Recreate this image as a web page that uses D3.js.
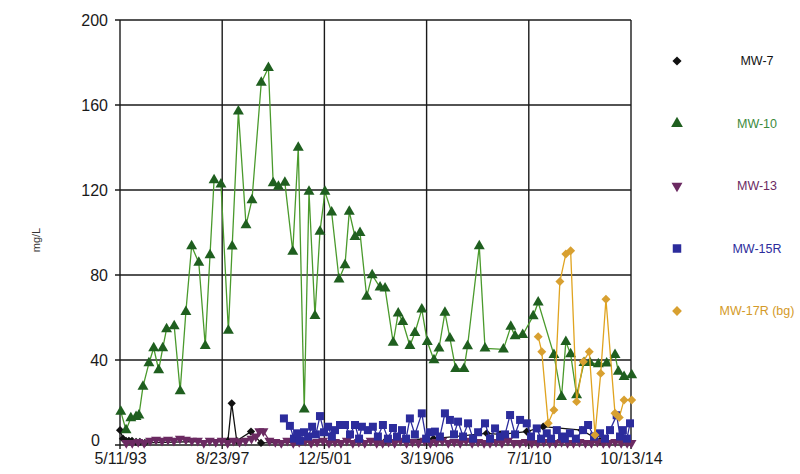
<!DOCTYPE html>
<html>
<head>
<meta charset="utf-8">
<script src="https://cdn.jsdelivr.net/npm/d3@7"></script>
<style>
  body { margin: 0; background: #fff; }
  text { font-family: "Liberation Sans", Arial, sans-serif; }
</style>
</head>
<body>
<div id="chart"></div>
<script>
// Axis ticks (Excel date axis, 1565 day steps)
const xTickLabels = ["5/11/93", "8/23/97", "12/5/01", "3/19/06", "7/1/10", "10/13/14"];
const yTicks = [0, 40, 80, 120, 160, 200];

// Sample dates as decimal years, concentrations in mg/L
const mw7Dates = [1993.36, 1993.48, 1993.61, 1993.73, 1993.86, 1994.03, 1994.19, 1994.40,
    1997.88, 1998.04, 1998.25, 1998.85, 1999.27, 2004.50, 2006.50, 2008.73, 2009.29, 2010.41,
    2011.10, 2012.71, 2013.48];
const mw7Values = [7, 3, 2, 2, 2, 1.5, 1.5, 1, 2, 19.6, 2, 6.3, 1, 2, 3, 5.5, 5, 6.3, 8.6, 7, 2];

const mw10Dates = [1993.39, 1993.61, 1993.81, 1994.03, 1994.15, 1994.32, 1994.57, 1994.77,
    1994.98, 1995.15, 1995.31, 1995.63, 1995.88, 1996.12, 1996.36, 1996.66, 1996.93, 1997.13,
    1997.30, 1997.59, 1997.90, 1998.06, 1998.32, 1998.64, 1998.89, 1999.28, 1999.58, 1999.78,
    2000.00, 2000.27, 2000.60, 2000.83, 2001.08, 2001.28, 2001.53, 2001.74, 2001.95, 2002.23,
    2002.54, 2002.79, 2002.97, 2003.21, 2003.42, 2003.70, 2003.93, 2004.26, 2004.47, 2004.81,
    2005.02, 2005.21, 2005.51, 2005.72, 2006.01, 2006.24, 2006.52, 2006.73, 2006.98, 2007.19,
    2007.43, 2007.78, 2007.93, 2008.42, 2008.66, 2009.43, 2009.74, 2009.92, 2010.24, 2010.68,
    2010.89, 2011.55, 2011.87, 2012.05, 2012.25, 2012.50, 2012.81, 2013.06, 2013.41, 2013.76,
    2014.11, 2014.25, 2014.49, 2014.81];
const mw10Values = [15.7, 7, 12.7, 13.3, 14, 27.5, 38.5, 45.6, 35.3, 45.6, 54.6, 56, 25.4,
    62.7, 93.6, 85.8, 46.7, 89.4, 124.7, 122.7, 53.8, 93.5, 157, 103.5, 115.3, 170.5, 177.5,
    123.2, 121.6, 123.5, 91, 140, 16.8, 119.2, 60.8, 100.4, 119.2, 109.5, 78, 84.7, 109.8, 98,
    99.9, 69.8, 80, 74.2, 73.7, 48.2, 62, 58, 46.7, 52.8, 63.8, 48.6, 40, 45.5, 62.3, 50.2,
    35.8, 35.8, 46.6, 93.6, 45.5, 45, 55.7, 51.3, 51.8, 60.7, 67.1, 42.4, 22.7, 48.6, 42.8,
    23.5, 38.7, 38.7, 38.1, 38.4, 42.4, 34.5, 32.1, 32.9];

const mw13Dates = [1993.62, 1993.87, 1994.12, 1994.37, 1994.62, 1994.87, 1995.12, 1995.37,
    1995.62, 1995.87, 1996.12, 1996.37, 1996.62, 1996.87, 1997.12, 1997.37, 1997.62, 1997.87,
    1998.12, 1998.37, 1998.62, 1998.87, 1999.05, 1999.20, 1999.37, 1999.62, 1999.87, 2000.12,
    2000.37, 2000.62, 2000.87, 2001.12, 2001.37, 2001.62, 2001.87, 2002.12, 2002.37, 2002.62,
    2002.87, 2003.12, 2003.37, 2003.62, 2003.87, 2004.12, 2004.37, 2004.62, 2004.87, 2005.12,
    2005.37, 2005.62, 2005.87, 2006.12, 2006.37, 2006.62, 2006.87, 2007.12, 2007.37, 2007.62,
    2007.87, 2008.12, 2008.37, 2008.62, 2008.87, 2009.12, 2009.37, 2009.62, 2009.87, 2010.12,
    2010.37, 2010.62, 2010.87, 2011.12, 2011.37, 2011.62, 2011.87, 2012.12, 2012.37, 2012.62,
    2012.87, 2013.12, 2013.37, 2013.62, 2013.87, 2014.12, 2014.37, 2014.62, 2014.80];
const mw13Values = [1, 1, 1.5, 1, 2, 2.5, 2, 2.5, 2, 3, 2.5, 2, 2, 1, 2, 1.5, 2, 1, 2, 1.5,
    2, 3, 4, 6.5, 6.5, 2, 1.5, 1, 2, 1, 1.5, 2, 1, 1.5, 2, 1, 1.5, 1, 2, 1, 1.5, 1, 2, 1, 1,
    1.5, 1, 2, 1, 1.5, 1, 2, 1, 1.5, 2, 1, 1.5, 1, 2, 1, 1.5, 1, 1, 1.5, 1, 2, 1, 1, 1.5, 1,
    1, 1.5, 1, 1, 1.5, 1, 1, 1.5, 1, 1, 1.5, 1, 1, 1.5, 1, 1, 1];

const mw15Dates = [2000.23, 2000.48, 2000.65, 2000.78, 2000.90, 2001.07, 2001.24, 2001.41,
    2001.57, 2001.74, 2001.91, 2002.08, 2002.24, 2002.37, 2002.58, 2002.79, 2003.00, 2003.21,
    2003.38, 2003.50, 2003.75, 2003.96, 2004.17, 2004.38, 2004.59, 2004.80, 2004.97, 2005.18,
    2005.35, 2005.51, 2005.72, 2006.01, 2006.19, 2006.35, 2006.56, 2006.77, 2006.98, 2007.19,
    2007.36, 2007.53, 2007.74, 2007.95, 2008.16, 2008.37, 2008.66, 2008.87, 2009.08, 2009.29,
    2009.50, 2009.71, 2009.92, 2010.13, 2010.41, 2010.59, 2010.83, 2011.01, 2011.25, 2011.43,
    2011.67, 2011.89, 2012.01, 2012.22, 2012.47, 2012.77, 2012.98, 2013.23, 2013.48, 2013.69,
    2013.90, 2014.18, 2014.32, 2014.44, 2014.61, 2014.74];
const mw15Values = [12.5, 9, 3, 5.5, 2, 6, 4, 8.6, 5, 13.6, 6, 8.6, 4, 7, 9.4, 9.4, 5, 9.4,
    3, 8.6, 7, 8.6, 4, 9.4, 3, 8, 4, 7, 3, 12.5, 5, 14.9, 3, 6, 6.3, 4, 14.9, 11.8, 5, 11, 4,
    10.2, 3, 6, 10.2, 3, 7.8, 4, 5, 14.1, 5, 11.8, 10.2, 4, 7.8, 3, 5.5, 3, 7, 4, 3, 5.5, 3,
    7, 9.4, 4, 5.5, 3, 7, 14, 4, 7, 3, 10.2];

const mw17Dates = [2010.89, 2011.04, 2011.31, 2011.55, 2011.80, 2012.05, 2012.25, 2012.50,
    2012.78, 2013.03, 2013.27, 2013.51, 2013.73, 2014.11, 2014.29, 2014.49, 2014.81];
const mw17Values = [51, 43.9, 10.2, 16.5, 76.9, 89.9, 91.4, 20.4, 39.2, 43.9, 4.7, 33.7,
    68.6, 14.9, 13, 21.2, 21.2];

const seriesNames = ["MW-7", "MW-10", "MW-13", "MW-15R", "MW-17R (bg)"];

// helpers
const parseTick = d3.timeParse("%m/%d/%y");
function yearToDate(y) {
    const yr = Math.floor(y);
    const a = new Date(yr, 0, 1), b = new Date(yr + 1, 0, 1);
    return new Date(+a + (y - yr) * (b - a));
}
function pack(dates, values) {
    return dates.map((d, i) => ({ date: yearToDate(d), value: values[i] }));
}

// rotate: 45 turns a square into a diamond, 180 flips the triangle
const series = [
    { name: seriesNames[0], data: pack(mw7Dates, mw7Values), line: "#111", fill: "#111", text: "#111", symbol: d3.symbolSquare, size: 34, rotate: 45 },
    { name: seriesNames[1], data: pack(mw10Dates, mw10Values), line: "#4a9a2c", fill: "#1f5f1f", text: "#3c8a3c", symbol: d3.symbolTriangle, size: 52, rotate: 0 },
    { name: seriesNames[2], data: pack(mw13Dates, mw13Values), line: "#6b2a62", fill: "#6b2a62", text: "#6b2a62", symbol: d3.symbolTriangle, size: 44, rotate: 180 },
    { name: seriesNames[3], data: pack(mw15Dates, mw15Values), line: "#2c2c9c", fill: "#2c2c9c", text: "#2c2c9c", symbol: d3.symbolSquare, size: 64, rotate: 0 },
    { name: seriesNames[4], data: pack(mw17Dates, mw17Values), line: "#e0a420", fill: "#d8a030", text: "#d49a28", symbol: d3.symbolSquare, size: 40, rotate: 45 }
];

const W = 800, H = 474;
const plot = { left: 120, right: 631, top: 20, bottom: 445 };

const svg = d3.select("#chart").append("svg")
    .attr("width", W)
    .attr("height", H);

const x = d3.scaleTime()
    .domain([parseTick("5/11/93"), parseTick("10/13/14")])
    .range([plot.left, plot.right]);
const y = d3.scaleLinear()
    .domain([0, 200])
    .range([plot.bottom, plot.top]);

// grid
const xTickDates = xTickLabels.map(parseTick);
svg.append("g")
    .selectAll("line")
    .data(xTickDates)
    .join("line")
    .attr("x1", d => x(d)).attr("x2", d => x(d))
    .attr("y1", plot.top).attr("y2", plot.bottom + 4)
    .attr("stroke", "#1a1a1a")
    .attr("stroke-width", 1.4);
svg.append("g")
    .selectAll("line")
    .data(yTicks)
    .join("line")
    .attr("x1", plot.left - 5).attr("x2", plot.right)
    .attr("y1", d => y(d)).attr("y2", d => y(d))
    .attr("stroke", "#1a1a1a")
    .attr("stroke-width", 1.4);

// axis labels
const yAxis = d3.axisLeft(y).tickValues(yTicks).tickSize(0).tickPadding(12);
svg.append("g")
    .attr("transform", `translate(${plot.left},0)`)
    .call(yAxis)
    .call(g => g.select(".domain").remove())
    .selectAll("text")
    .attr("font-size", 16)
    .attr("fill", "#1a1a1a")
    .attr("font-family", "Liberation Sans, Arial, sans-serif")
    // the 0 label sits a little left and up, clear of the first date
    .filter(d => d === 0)
    .attr("dx", -8)
    .attr("dy", "0.05em");

const xAxis = d3.axisBottom(x).tickValues(xTickDates).tickFormat((d, i) => xTickLabels[i]).tickSize(0).tickPadding(8);
svg.append("g")
    .attr("transform", `translate(0,${plot.bottom})`)
    .call(xAxis)
    .call(g => g.select(".domain").remove())
    .selectAll("text")
    .attr("font-size", 16)
    .attr("fill", "#1a1a1a")
    .attr("font-family", "Liberation Sans, Arial, sans-serif");

svg.append("text")
    .attr("transform", "translate(40,240) rotate(-90)")
    .attr("text-anchor", "middle")
    .attr("font-size", 11)
    .attr("fill", "#333")
    .text("mg/L");

// series lines + markers
const line = d3.line().x(d => x(d.date)).y(d => y(d.value));

series.forEach(s => {
    const g = svg.append("g");
    g.append("path")
        .datum(s.data)
        .attr("d", line)
        .attr("fill", "none")
        .attr("stroke", s.line)
        .attr("stroke-width", 1.3);
    const sym = d3.symbol().type(s.symbol).size(s.size);
    g.selectAll("path.pt")
        .data(s.data)
        .join("path")
        .attr("class", "pt")
        .attr("d", sym)
        .attr("transform", d => `translate(${x(d.date)},${y(d.value)}) rotate(${s.rotate})`)
        .attr("fill", s.fill);
});

// legend
const legend = svg.append("g");
series.forEach((s, i) => {
    const ly = 61 + i * 62.5;
    legend.append("path")
        .attr("d", d3.symbol().type(s.symbol).size(s.size + 8))
        .attr("transform", `translate(677,${ly}) rotate(${s.rotate})`)
        .attr("fill", s.fill);
    legend.append("text")
        .attr("x", 757)
        .attr("y", ly)
        .attr("dy", "0.35em")
        .attr("text-anchor", "middle")
        .attr("font-size", 12.5)
        .attr("fill", s.text)
        .text(s.name);
});
</script>
</body>
</html>
